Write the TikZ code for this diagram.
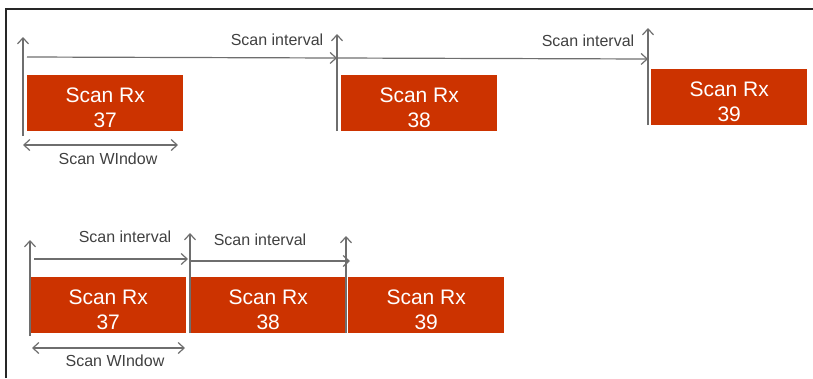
\documentclass[tikz,border=0pt]{standalone}
\usepackage{fontspec}
\setmainfont{Liberation Sans}
\usetikzlibrary{arrows.meta}
\definecolor{scanred}{HTML}{CC3300}
\definecolor{arrowgray}{HTML}{6E6E6E}
\newcommand{\scanrx}[1]{\raisebox{-12pt}[0pt][0pt]{\begin{tabular}{@{}c@{}}Scan Rx\\#1\end{tabular}}}

\begin{document}
\begin{tikzpicture}[
    x=1pt, y=-1pt,
    >={Straight Barb[length=6pt, width=11pt]},
    scanbox/.style={fill=scanred, text=white, anchor=north west, minimum width=156pt, minimum height=56pt, inner sep=0pt, font=\fontsize{21}{25}\selectfont},
    lbl/.style={anchor=base, text=black!75, inner sep=0pt, font=\fontsize{16}{19}\selectfont},
    arrow/.style={->, line width=1.2pt, arrowgray},
    span/.style={<->, line width=1.2pt, arrowgray}
]
\useasboundingbox (0,0) rectangle (813,378);
\draw[line width=2pt, black!85] (6,378) -- (6,9) -- (813,9);

% spread out scans
\node[scanbox] (rx37a) at (27,75) {\scanrx{37}};
\node[scanbox] (rx38a) at (341,75) {\scanrx{38}};
\node[scanbox] (rx39a) at (651,69) {\scanrx{39}};

\coordinate (ta1) at (23,136);   \coordinate (tb1) at (23,37);
\coordinate (ta2) at (337,131);  \coordinate (tb2) at (337,34);
\coordinate (ta3) at (648,125);  \coordinate (tb3) at (648,28);
\coordinate (ha1) at (27,57);    \coordinate (hb1) at (337,58);
\coordinate (hb2) at (648,59);
\coordinate (wa1) at (23,145);   \coordinate (wb1) at (178,145);

\draw[arrow] (ta1) -- (tb1);
\draw[arrow] (ta2) -- (tb2);
\draw[arrow] (ta3) -- (tb3);
\draw[arrow] (ha1) -- (hb1);
\draw[arrow] (hb1) -- (hb2);
\draw[span] (wa1) -- (wb1);

\node[lbl] (int1) at (277,45) {Scan interval};
\node[lbl] (int2) at (588,46) {Scan interval};
\node[lbl] (win1) at (108,164) {Scan WIndow};

% back to back scans
\node[scanbox] (rx37b) at (30,277) {\scanrx{37}};
\node[scanbox] (rx38b) at (190,277) {\scanrx{38}};
\node[scanbox] (rx39b) at (348,277) {\scanrx{39}};

\coordinate (ba1) at (30,336);   \coordinate (bb1) at (30,240);
\coordinate (ba2) at (190,333);  \coordinate (bb2) at (190,233);
\coordinate (ba3) at (346,333);  \coordinate (bb3) at (346,236);
\coordinate (hc1) at (34,259);   \coordinate (hd1) at (188,259);
\coordinate (hc2) at (190,261);  \coordinate (hd2) at (350,261);
\coordinate (wa2) at (32,348);   \coordinate (wb2) at (185,348);

\draw[arrow] (ba1) -- (bb1);
\draw[arrow] (ba2) -- (bb2);
\draw[arrow] (ba3) -- (bb3);
\draw[arrow] (hc1) -- (hd1);
\draw[arrow] (hc2) -- (hd2);
\draw[span] (wa2) -- (wb2);

\node[lbl] (int3) at (125,242) {Scan interval};
\node[lbl] (int4) at (260,245) {Scan interval};
\node[lbl] (win2) at (115,366) {Scan WIndow};

\end{tikzpicture}
\end{document}
